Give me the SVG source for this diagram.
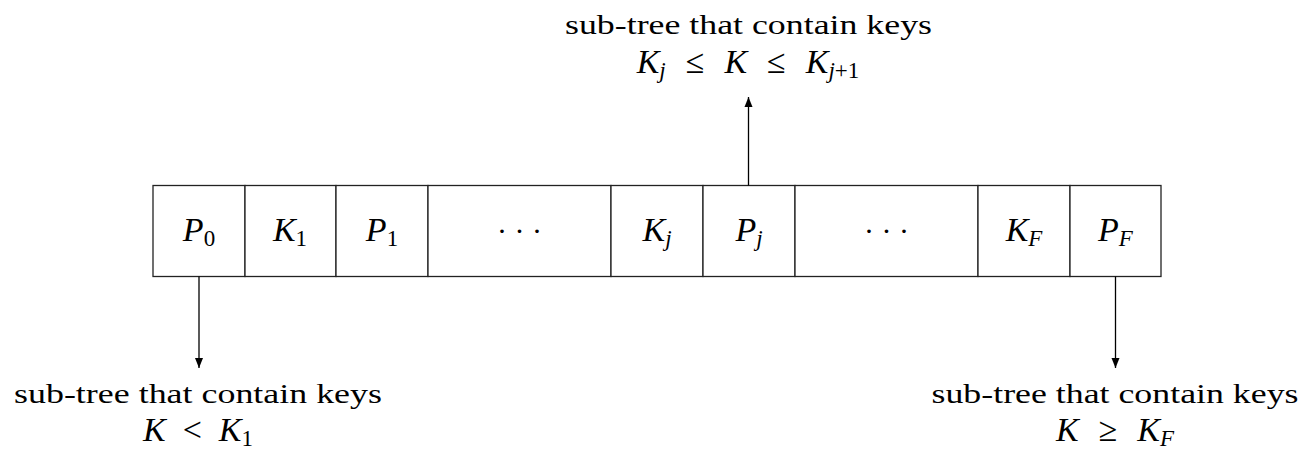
<svg xmlns="http://www.w3.org/2000/svg" width="1305" height="469" viewBox="0 0 1305 469">
<style>
text{font-family:"Liberation Serif","Times New Roman",serif;fill:#000;}
.lbl{font-size:28px;text-anchor:middle;}
.m{font-size:34px;text-anchor:middle;}
.i{font-style:italic;}
.s{font-size:23px;}
.cell{fill:#fff;stroke:#222;stroke-width:1.3;}
.conn{stroke:#000;stroke-width:1.3;fill:none;}
</style>
<defs>
<marker id="ah" viewBox="0 0 10 10" refX="10" refY="5" markerWidth="10" markerHeight="10" markerUnits="userSpaceOnUse" orient="auto">
<path d="M0,1 L10,5 L0,9 z" fill="#000"/>
</marker>
</defs>
<g id="node-P0"><rect class="cell" x="153" y="185.5" width="92" height="91"/>
<text class="m" x="199" y="241"><tspan class="i">P</tspan><tspan class="s" dy="5">0</tspan></text></g>
<g id="node-K1"><rect class="cell" x="245" y="185.5" width="91" height="91"/>
<text class="m" x="290" y="241"><tspan class="i">K</tspan><tspan class="s" dy="5">1</tspan></text></g>
<g id="node-P1"><rect class="cell" x="336" y="185.5" width="92" height="91"/>
<text class="m" x="382" y="241"><tspan class="i">P</tspan><tspan class="s" dy="5">1</tspan></text></g>
<g id="node-dots1"><rect class="cell" x="428" y="185.5" width="183" height="91"/>
<text class="m" x="519.5" y="241" style="font-size:30px">· · ·</text></g>
<g id="node-Kj"><rect class="cell" x="611" y="185.5" width="92" height="91"/>
<text class="m" x="657" y="241"><tspan class="i">K</tspan><tspan class="s i" dy="5">j</tspan></text></g>
<g id="node-Pj"><rect class="cell" x="703" y="185.5" width="92" height="91"/>
<text class="m" x="749" y="241"><tspan class="i">P</tspan><tspan class="s i" dy="5">j</tspan></text></g>
<g id="node-dots2"><rect class="cell" x="795" y="185.5" width="183" height="91"/>
<text class="m" x="886.5" y="241" style="font-size:30px">· · ·</text></g>
<g id="node-KF"><rect class="cell" x="978" y="185.5" width="92" height="91"/>
<text class="m" x="1024" y="241"><tspan class="i">K</tspan><tspan class="s i" dy="5">F</tspan></text></g>
<g id="node-PF"><rect class="cell" x="1070" y="185.5" width="91" height="91"/>
<text class="m" x="1115.5" y="241"><tspan class="i">P</tspan><tspan class="s i" dy="5">F</tspan></text></g>
<g id="connectors">
<line class="conn" x1="748.5" y1="185.5" x2="748.5" y2="97" marker-end="url(#ah)"/>
<line class="conn" x1="199" y1="276.5" x2="199" y2="368" marker-end="url(#ah)"/>
<line class="conn" x1="1115.5" y1="276.5" x2="1115.5" y2="368" marker-end="url(#ah)"/>
</g>
<g id="label-top">
<text class="lbl" x="748.5" y="34" textLength="367" lengthAdjust="spacingAndGlyphs">sub-tree that contain keys</text>
<text class="m" x="748" y="73"><tspan class="i">K</tspan><tspan class="s i" dy="5">j</tspan><tspan dy="-5" dx="20">≤</tspan><tspan class="i" dx="20">K</tspan><tspan dx="20">≤</tspan><tspan class="i" dx="20">K</tspan><tspan class="s" dy="5"><tspan class="i">j</tspan>+1</tspan></text>
</g>
<g id="label-left">
<text class="lbl" x="198" y="403" textLength="368" lengthAdjust="spacingAndGlyphs">sub-tree that contain keys</text>
<text class="m" x="198" y="441"><tspan class="i">K</tspan><tspan dx="17">&lt;</tspan><tspan class="i" dx="17">K</tspan><tspan class="s" dy="5">1</tspan></text>
</g>
<g id="label-right">
<text class="lbl" x="1115" y="403" textLength="367" lengthAdjust="spacingAndGlyphs">sub-tree that contain keys</text>
<text class="m" x="1115" y="441"><tspan class="i">K</tspan><tspan dx="20">≥</tspan><tspan class="i" dx="20">K</tspan><tspan class="s i" dy="5">F</tspan></text>
</g>
</svg>
